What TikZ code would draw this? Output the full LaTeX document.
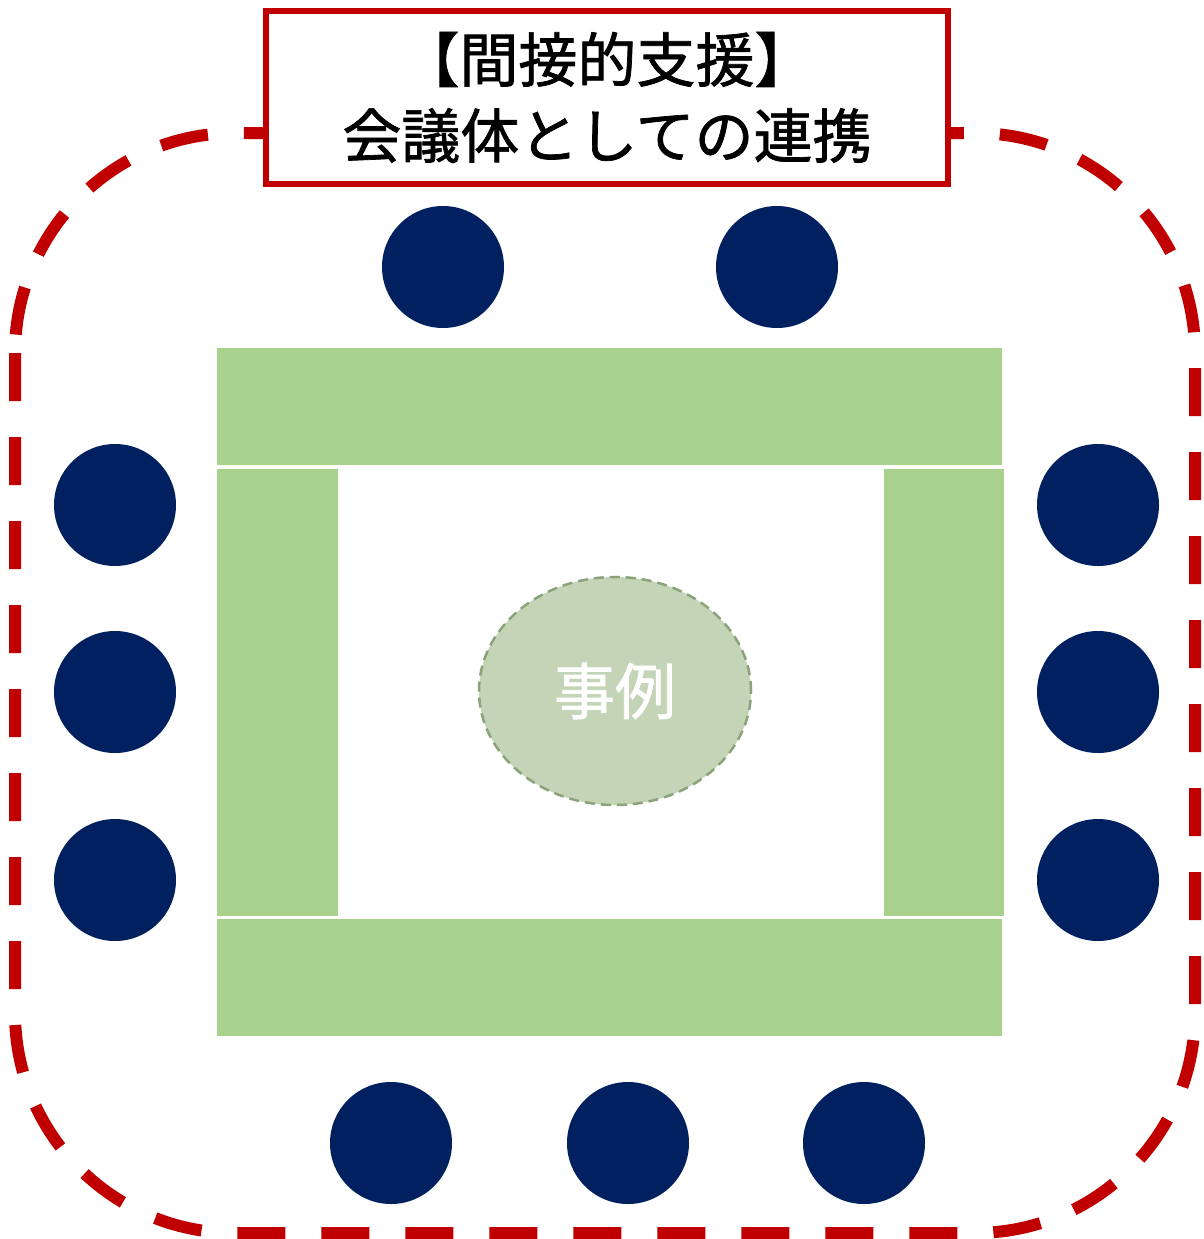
\documentclass[tikz,border=0pt]{standalone}
\usepackage{fontspec}
\usetikzlibrary{shapes.geometric}
\newfontfamily\cjk{Noto Sans CJK JP}
\newfontfamily\cjkbold[FakeBold=1.2]{Noto Sans CJK JP}
\definecolor{navy}{HTML}{002060}
\definecolor{tablegreen}{HTML}{A9D18E}
\definecolor{casefill}{HTML}{C3D5B6}
\definecolor{caseline}{HTML}{8AA37A}
\definecolor{redline}{HTML}{C00000}
\begin{document}
\begin{tikzpicture}[x=1pt,y=-1pt,
  person/.style={circle,fill=navy,draw=none,minimum size=122pt,inner sep=0pt},
  tablebox/.style={fill=tablegreen,draw=none},
  titlebox/.style={draw=redline,line width=6pt,fill=white,minimum width=682pt,minimum height=173pt,inner sep=0pt,align=center,font=\cjkbold\fontsize{59}{76}\selectfont},
  casebox/.style={ellipse,fill=casefill,draw=caseline,dash pattern=on 10pt off 6pt,line width=2.5pt,minimum width=272pt,minimum height=228pt,inner sep=0pt,text=white,font=\cjkbold\fontsize{61}{70}\selectfont}
]
\useasboundingbox (0,0) rectangle (1203,1239);
% dashed frame
\draw[redline,line width=12pt,dash pattern=on 48pt off 36pt,rounded corners=220pt] (15,133) rectangle (1195,1233);
% tables
\fill[tablegreen] (217,348) rectangle (1002,465);
\fill[tablegreen] (217,469) rectangle (338,916);
\fill[tablegreen] (884,469) rectangle (1004,916);
\fill[tablegreen] (217,919) rectangle (1002,1036);
% case
\node[casebox] (case) at (615,691) {事例};
% title
\node[titlebox] (title) at (607,97.5) {【間接的支援】\\会議体としての連携};
% people
\node[person] (t1) at (443,267) {};
\node[person] (t2) at (777,267) {};
\node[person] (l1) at (115,505) {};
\node[person] (l2) at (115,692) {};
\node[person] (l3) at (115,880) {};
\node[person] (r1) at (1098,505) {};
\node[person] (r2) at (1098,692) {};
\node[person] (r3) at (1098,880) {};
\node[person] (b1) at (391,1143) {};
\node[person] (b2) at (628,1143) {};
\node[person] (b3) at (864,1143) {};
\end{tikzpicture}
\end{document}
